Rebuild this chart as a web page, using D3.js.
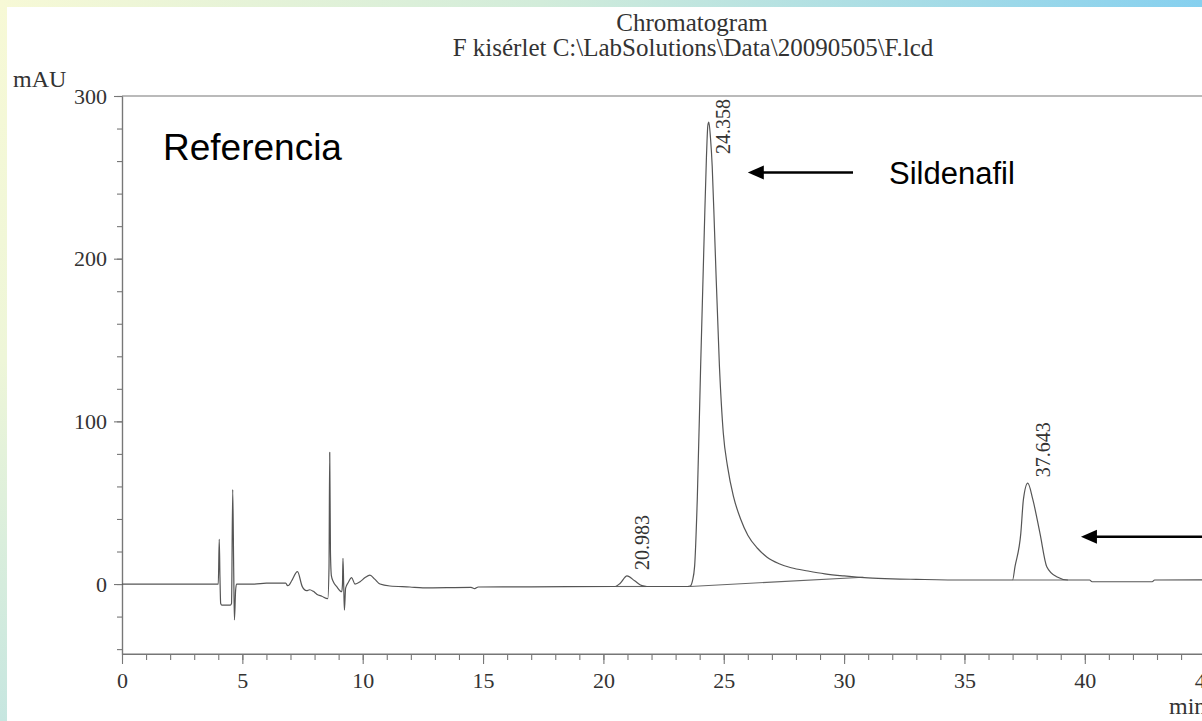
<!DOCTYPE html>
<html>
<head>
<meta charset="utf-8">
<script src="https://cdn.jsdelivr.net/npm/d3@7"></script>
<style>
  body { margin: 0; overflow: hidden; background: #fff; }
</style>
</head>
<body>
<div class="chart"></div>
<script>
// chromatogram trace (min, mAU)
var timeMin = [0, 4.0, 4.04, 4.07, 4.1, 4.15, 4.5, 4.55, 4.6, 4.64, 4.67, 4.72, 4.76, 5.5, 6.0, 6.8, 6.88, 6.95, 7.05, 7.29,
  7.49, 7.67, 7.8, 7.95, 8.09, 8.3, 8.55, 8.6, 8.63, 8.66, 8.7, 8.78, 8.92, 9.13, 9.16, 9.18, 9.21, 9.24, 9.29, 9.4,
  9.54, 9.68, 9.89, 10.1, 10.3, 10.5, 10.72, 11.13, 11.96, 12.5, 14.5, 14.65, 14.8, 17, 20.5, 20.7, 20.98, 21.3, 21.6, 21.8,
  23.5, 23.6, 23.7, 23.79, 23.9, 24.04, 24.19, 24.28, 24.34, 24.38, 24.45, 24.52, 24.62, 24.82, 24.98, 25.16, 25.4, 25.7, 26.0, 26.4,
  26.8, 27.3, 27.8, 28.5, 29.2, 30, 31, 32, 33, 35, 37.0, 37.1, 37.34, 37.45, 37.63, 37.84, 38.14, 38.42, 38.83, 39.3,
  40.2, 40.3, 42.8, 42.9, 50];
var signalMAU = [0, 0, 27.5, 4, -12, -13, -13, -12, 58, 10, -22, -4, 0, 0, 0.6, 0.6, -1, -0.5, 2, 7.6,
  -1.6, -4.1, -3.5, -4.5, -6.2, -7.5, -9, 10, 81, 20, 5, 1.4, -1.6, -4.7, 0, 15.8, 0, -16, -2.5, 1,
  3.9, 0, 1.4, 4, 5.5, 3, 0, -1.2, -1.8, -2.3, -2, -2.8, -1.8, -1.7, -1.5, 0.5, 5, 2, -1, -1.5,
  -1.5, -1.3, 2, 11, 52, 134, 216, 262, 282, 284, 274, 257, 216, 134, 93, 72, 54, 40, 30, 22,
  16.5, 12.5, 10, 8, 6.3, 5, 3.8, 3.2, 2.9, 2.5, 2.5, 10.7, 31, 52, 62, 52, 31, 10.7, 4.5, 2.5,
  2.5, 1.4, 1.4, 2.5, 2.6];

// integration baselines drawn under the peaks
var baseStartT = [20.5, 23.6, 37.0];
var baseStartV = [-1.5, -1.5, 2.5];
var baseEndT = [21.8, 30.8, 39.3];
var baseEndV = [-1.5, 4.2, 2.5];

// peak retention times and apex heights
var peakTimes = [20.983, 24.358, 37.643];
var peakHeights = [5, 284, 62];

var xTicksMajor = [0, 5, 10, 15, 20, 25, 30, 35, 40, 45, 50];
var yTicksMajor = [0, 100, 200, 300];

var svgWidth = 1202;
var svgHeight = 721;

var svg = d3.select(".chart")
  .append("svg")
  .attr("width", svgWidth)
  .attr("height", svgHeight);

// slide background strips
var defs = svg.append("defs");
var gTop = defs.append("linearGradient").attr("id", "gTop")
  .attr("x1", "0%").attr("x2", "100%").attr("y1", "0%").attr("y2", "0%");
gTop.append("stop").attr("offset", "0%").attr("stop-color", "#f7f9d6");
gTop.append("stop").attr("offset", "45%").attr("stop-color", "#d2ecda");
gTop.append("stop").attr("offset", "100%").attr("stop-color", "#86d0ef");
var gLeft = defs.append("linearGradient").attr("id", "gLeft")
  .attr("x1", "0%").attr("x2", "0%").attr("y1", "0%").attr("y2", "100%");
gLeft.append("stop").attr("offset", "0%").attr("stop-color", "#f7f9d6");
gLeft.append("stop").attr("offset", "50%").attr("stop-color", "#eef6d8");
gLeft.append("stop").attr("offset", "100%").attr("stop-color", "#c6e6e0");

svg.append("rect").attr("x", 0).attr("y", 0).attr("width", 7).attr("height", svgHeight).attr("fill", "url(#gLeft)");
svg.append("rect").attr("x", 0).attr("y", 0).attr("width", svgWidth).attr("height", 7).attr("fill", "url(#gTop)");

// scales
var x = d3.scaleLinear().domain([0, 50]).range([122, 122 + 50 * 24.07]);
var y = d3.scaleLinear().domain([-43, 300]).range([654, 96]);

var serif = "'Liberation Serif', 'Times New Roman', serif";
var sans = "'Liberation Sans', Arial, sans-serif";
var axisColor = "#777";

// plot frame top
svg.append("line")
  .attr("x1", x(0)).attr("x2", svgWidth)
  .attr("y1", y(300)).attr("y2", y(300))
  .attr("stroke", axisColor).attr("stroke-width", 1.2);

// x axis: minor then major
var xMinor = svg.append("g")
  .attr("transform", `translate(0,${y(-43)})`)
  .call(d3.axisBottom(x).tickValues(d3.range(0, 51, 1)).tickSize(6).tickFormat("").tickSizeOuter(0));
var xMajor = svg.append("g")
  .attr("transform", `translate(0,${y(-43)})`)
  .call(d3.axisBottom(x).tickValues(xTicksMajor).tickSize(10).tickPadding(8).tickSizeOuter(0));

// y axis: minor then major
var yMinor = svg.append("g")
  .attr("transform", `translate(${x(0)},0)`)
  .call(d3.axisLeft(y).tickValues(d3.range(-40, 301, 20)).tickSize(5).tickFormat("").tickSizeOuter(0));
var yMajor = svg.append("g")
  .attr("transform", `translate(${x(0)},0)`)
  .call(d3.axisLeft(y).tickValues(yTicksMajor).tickSize(8).tickPadding(7).tickSizeOuter(0));

[xMinor, xMajor, yMinor, yMajor].forEach(function(g) {
  g.selectAll("path.domain").attr("stroke", axisColor).attr("stroke-width", 1.2);
  g.selectAll(".tick line").attr("stroke", axisColor).attr("stroke-width", 1.1);
  g.selectAll(".tick text")
    .attr("fill", "#333")
    .style("font-family", serif)
    .style("font-size", "22px");
});
xMajor.select("path.domain").attr("d", `M${x(0)},0H${svgWidth}`);

// axis titles
svg.append("text").attr("x", 13).attr("y", 87)
  .style("font-family", serif).style("font-size", "24px").attr("fill", "#333")
  .text("mAU");
svg.append("text").attr("x", 1169).attr("y", 714)
  .style("font-family", serif).style("font-size", "24px").attr("fill", "#333")
  .text("min");

// title
svg.append("text").attr("x", 692).attr("y", 31).attr("text-anchor", "middle")
  .style("font-family", serif).style("font-size", "25px").attr("fill", "#333")
  .text("Chromatogram");
svg.append("text").attr("x", 693).attr("y", 56).attr("text-anchor", "middle")
  .style("font-family", serif).style("font-size", "25px").attr("fill", "#333")
  .text("F kisérlet C:\\LabSolutions\\Data\\20090505\\F.lcd");

// integration baselines
svg.append("g").selectAll("line")
  .data(baseStartT)
  .enter()
  .append("line")
  .attr("x1", (d, i) => x(d))
  .attr("y1", (d, i) => y(baseStartV[i]))
  .attr("x2", (d, i) => x(baseEndT[i]))
  .attr("y2", (d, i) => y(baseEndV[i]))
  .attr("stroke", "#666")
  .attr("stroke-width", 1.1);

// trace
var trace = timeMin.map((t, i) => [t, signalMAU[i]]);
var lineGen = d3.line().curve(d3.curveMonotoneX).x(d => x(d[0])).y(d => y(d[1]));
svg.append("path")
  .datum(trace)
  .attr("d", lineGen)
  .attr("fill", "none")
  .attr("stroke", "#555")
  .attr("stroke-width", 1.2)
  .attr("stroke-linejoin", "round");

// peak retention-time labels, rotated
svg.append("g").selectAll("text")
  .data(peakTimes)
  .enter()
  .append("text")
  .attr("transform", function(d, i) {
    var bottom = Math.max(y(peakHeights[i]) - 6, y(300) + 58);
    return `translate(${x(d) + 15},${bottom}) rotate(-90)`;
  })
  .attr("dy", "0.35em")
  .style("font-family", serif)
  .style("font-size", "20px")
  .attr("fill", "#333")
  .text(d => d.toFixed(3));

// annotations
svg.append("text").attr("x", 163).attr("y", 160)
  .style("font-family", sans).style("font-size", "37px").attr("fill", "#000")
  .text("Referencia");
svg.append("text").attr("x", 889).attr("y", 184)
  .style("font-family", sans).style("font-size", "31px").attr("fill", "#000")
  .text("Sildenafil");

function arrow(t0, t1, v) {
  var xa = x(t1), xb = x(t0), ya = y(v);
  svg.append("line")
    .attr("x1", xa + 12).attr("x2", xb)
    .attr("y1", ya).attr("y2", ya)
    .attr("stroke", "#000").attr("stroke-width", 2.5);
  svg.append("path")
    .attr("d", `M${xa},${ya}L${xa + 16},${ya - 7}L${xa + 16},${ya + 7}Z`)
    .attr("fill", "#000");
}
arrow(30.37, 26.0, 253);
arrow(47, 39.84, 29);
</script>
</body>
</html>
